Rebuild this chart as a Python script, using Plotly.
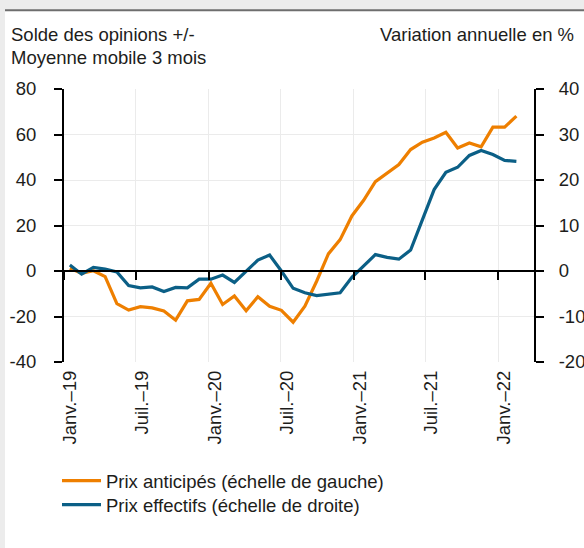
import plotly.graph_objects as go

# ---- data (monthly, Jan-19 .. Mar-22) ----
months = ["2019-01","2019-02","2019-03","2019-04","2019-05","2019-06","2019-07","2019-08","2019-09","2019-10","2019-11","2019-12",
          "2020-01","2020-02","2020-03","2020-04","2020-05","2020-06","2020-07","2020-08","2020-09","2020-10","2020-11","2020-12",
          "2021-01","2021-02","2021-03","2021-04","2021-05","2021-06","2021-07","2021-08","2021-09","2021-10","2021-11","2021-12",
          "2022-01","2022-02","2022-03"]
prix_anticipes = [1.2, -1.0, 0.1, -2.5, -14.3, -17.2, -15.7, -16.2, -17.6, -21.6, -13.1, -12.5,
                  -5.4, -14.7, -11.0, -17.5, -11.3, -15.5, -17.3, -22.5, -15.5, -4.5, 7.5, 13.8,
                  24.2, 31.1, 39.3, 43.1, 46.8, 53.4, 56.6, 58.5, 61.0, 54.1, 56.3, 54.6,
                  63.2, 63.2, 68.1]
prix_effectifs = [1.3, -0.7, 0.8, 0.4, -0.2, -3.2, -3.7, -3.5, -4.5, -3.6, -3.7, -1.8,
                  -1.8, -0.9, -2.5, 0.0, 2.4, 3.5, 0.0, -3.8, -4.8, -5.4, -5.1, -4.8,
                  -1.4, 1.1, 3.6, 3.0, 2.6, 4.6, 11.3, 17.9, 21.7, 22.8, 25.4, 26.5,
                  25.6, 24.3, 24.1]
tick_dates = ["2019-01-01","2019-07-01","2020-01-01","2020-07-01","2021-01-01","2021-07-01","2022-01-01"]
tick_labels = ["Janv.\u201319","Juil.\u201319","Janv.\u201320","Juil.\u201320","Janv.\u201321","Juil.\u201321","Janv.\u201322"]
left_ticks = [-40, -20, 0, 20, 40, 60, 80]
left_labels = ["-40", "-20", "0", "20", "40", "60", "80"]
right_ticks = [-20, -10, 0, 10, 20, 30, 40]
right_labels = ["-20", "-10", "0", "10", "20", "30", "40"]

ORANGE = "#EE7F00"
BLUE = "#0B5F86"
TXT = "#1d1d1b"
GRID = "#ebebeb"
FONT = "Liberation Sans"
FS = 18.5

W, H = 584, 548
ML, MR, MT, MB = 64, 50, 89, 186
PW, PH = W - ML - MR, H - MT - MB

def px(x):
    return (x - ML) / PW

def py(y):
    return (H - MB - y) / PH

fig = go.Figure()
fig.add_trace(go.Scatter(x=months, y=prix_anticipes, mode="lines", name="Prix anticipés (échelle de gauche)",
                         line=dict(color=ORANGE, width=3.2), xaxis="x2", yaxis="y", legend="legend"))
fig.add_trace(go.Scatter(x=months, y=prix_effectifs, mode="lines", name="Prix effectifs (échelle de droite)",
                         line=dict(color=BLUE, width=3.2), xaxis="x2", yaxis="y2", legend="legend2"))
# empty helper traces so the date axes (grid/labels and zero-line axis) are drawn
for ax in ("x", "x3"):
    fig.add_trace(go.Scatter(x=tick_dates, y=[None] * len(tick_dates), mode="markers", xaxis=ax, yaxis="y",
                             showlegend=False, hoverinfo="skip", marker=dict(opacity=0)))

legend_style = dict(xanchor="left", yanchor="top", bgcolor="rgba(0,0,0,0)",
                    font=dict(size=FS), itemwidth=39, borderwidth=0)

fig.update_layout(
    template="none",
    width=W, height=H,
    margin=dict(l=ML, r=MR, t=MT, b=MB, pad=0, autoexpand=False),
    paper_bgcolor="#ececec", plot_bgcolor="white",
    font=dict(family=FONT, size=FS, color=TXT),
    showlegend=True,
    legend=dict(x=px(57), y=py(462), **legend_style),
    legend2=dict(x=px(57), y=py(486), **legend_style),
    xaxis=dict(type="date", range=["2019-01-01", "2022-04-01"], tickvals=tick_dates, ticktext=tick_labels,
               tickangle=-90, showgrid=True, gridcolor=GRID, gridwidth=1, ticks="", showline=False,
               zeroline=False, ticklabelshift=6, ticklabelstandoff=4, tickfont=dict(size=FS), automargin=False),
    xaxis2=dict(type="category", overlaying="x", range=[-0.5, 39.5], visible=False, automargin=False),
    xaxis3=dict(type="date", overlaying="x", anchor="free", position=1/3, range=["2019-01-01", "2022-04-01"],
                tickvals=tick_dates, showticklabels=False, showgrid=False, zeroline=False,
                showline=True, linecolor="black", linewidth=2, ticks="outside", ticklen=8, tickwidth=2,
                tickcolor="black", automargin=False),
    yaxis=dict(range=[-40, 80], tickvals=left_ticks, ticktext=left_labels, showgrid=True, gridcolor=GRID,
               gridwidth=1, zeroline=False, showline=True, linecolor="black", linewidth=2, ticks="outside",
               ticklen=8, tickwidth=2, tickcolor="black", ticklabelstandoff=14, automargin=False),
    yaxis2=dict(range=[-20, 40], tickvals=right_ticks, ticktext=right_labels, overlaying="y", side="right",
                showgrid=False, zeroline=False, showline=True, linecolor="black", linewidth=2, ticks="outside",
                ticklen=8, tickwidth=2, tickcolor="black", ticklabelstandoff=11, automargin=False),
)

# frame decoration
fig.add_shape(type="rect", xref="paper", yref="paper", x0=px(5), x1=px(600), y0=py(560), y1=py(11),
              fillcolor="white", line=dict(width=0), layer="below")
fig.add_shape(type="line", xref="paper", yref="paper", x0=px(5), x1=px(600), y0=py(10.3), y1=py(10.3),
              line=dict(color="#6e6e6e", width=2), layer="below")

fig.add_annotation(text="Solde des opinions +/-", xref="paper", yref="paper", x=px(8.5), y=py(34),
                   xanchor="left", yanchor="middle", showarrow=False, font=dict(size=FS))
fig.add_annotation(text="Moyenne mobile 3 mois", xref="paper", yref="paper", x=px(8.5), y=py(57.5),
                   xanchor="left", yanchor="middle", showarrow=False, font=dict(size=FS))
fig.add_annotation(text="Variation annuelle en %", xref="paper", yref="paper", x=px(576), y=py(34),
                   xanchor="right", yanchor="middle", showarrow=False, font=dict(size=FS))

fig.write_html("out.html", config={"displayModeBar": False},
               post_script="document.body.style.margin='0';")
